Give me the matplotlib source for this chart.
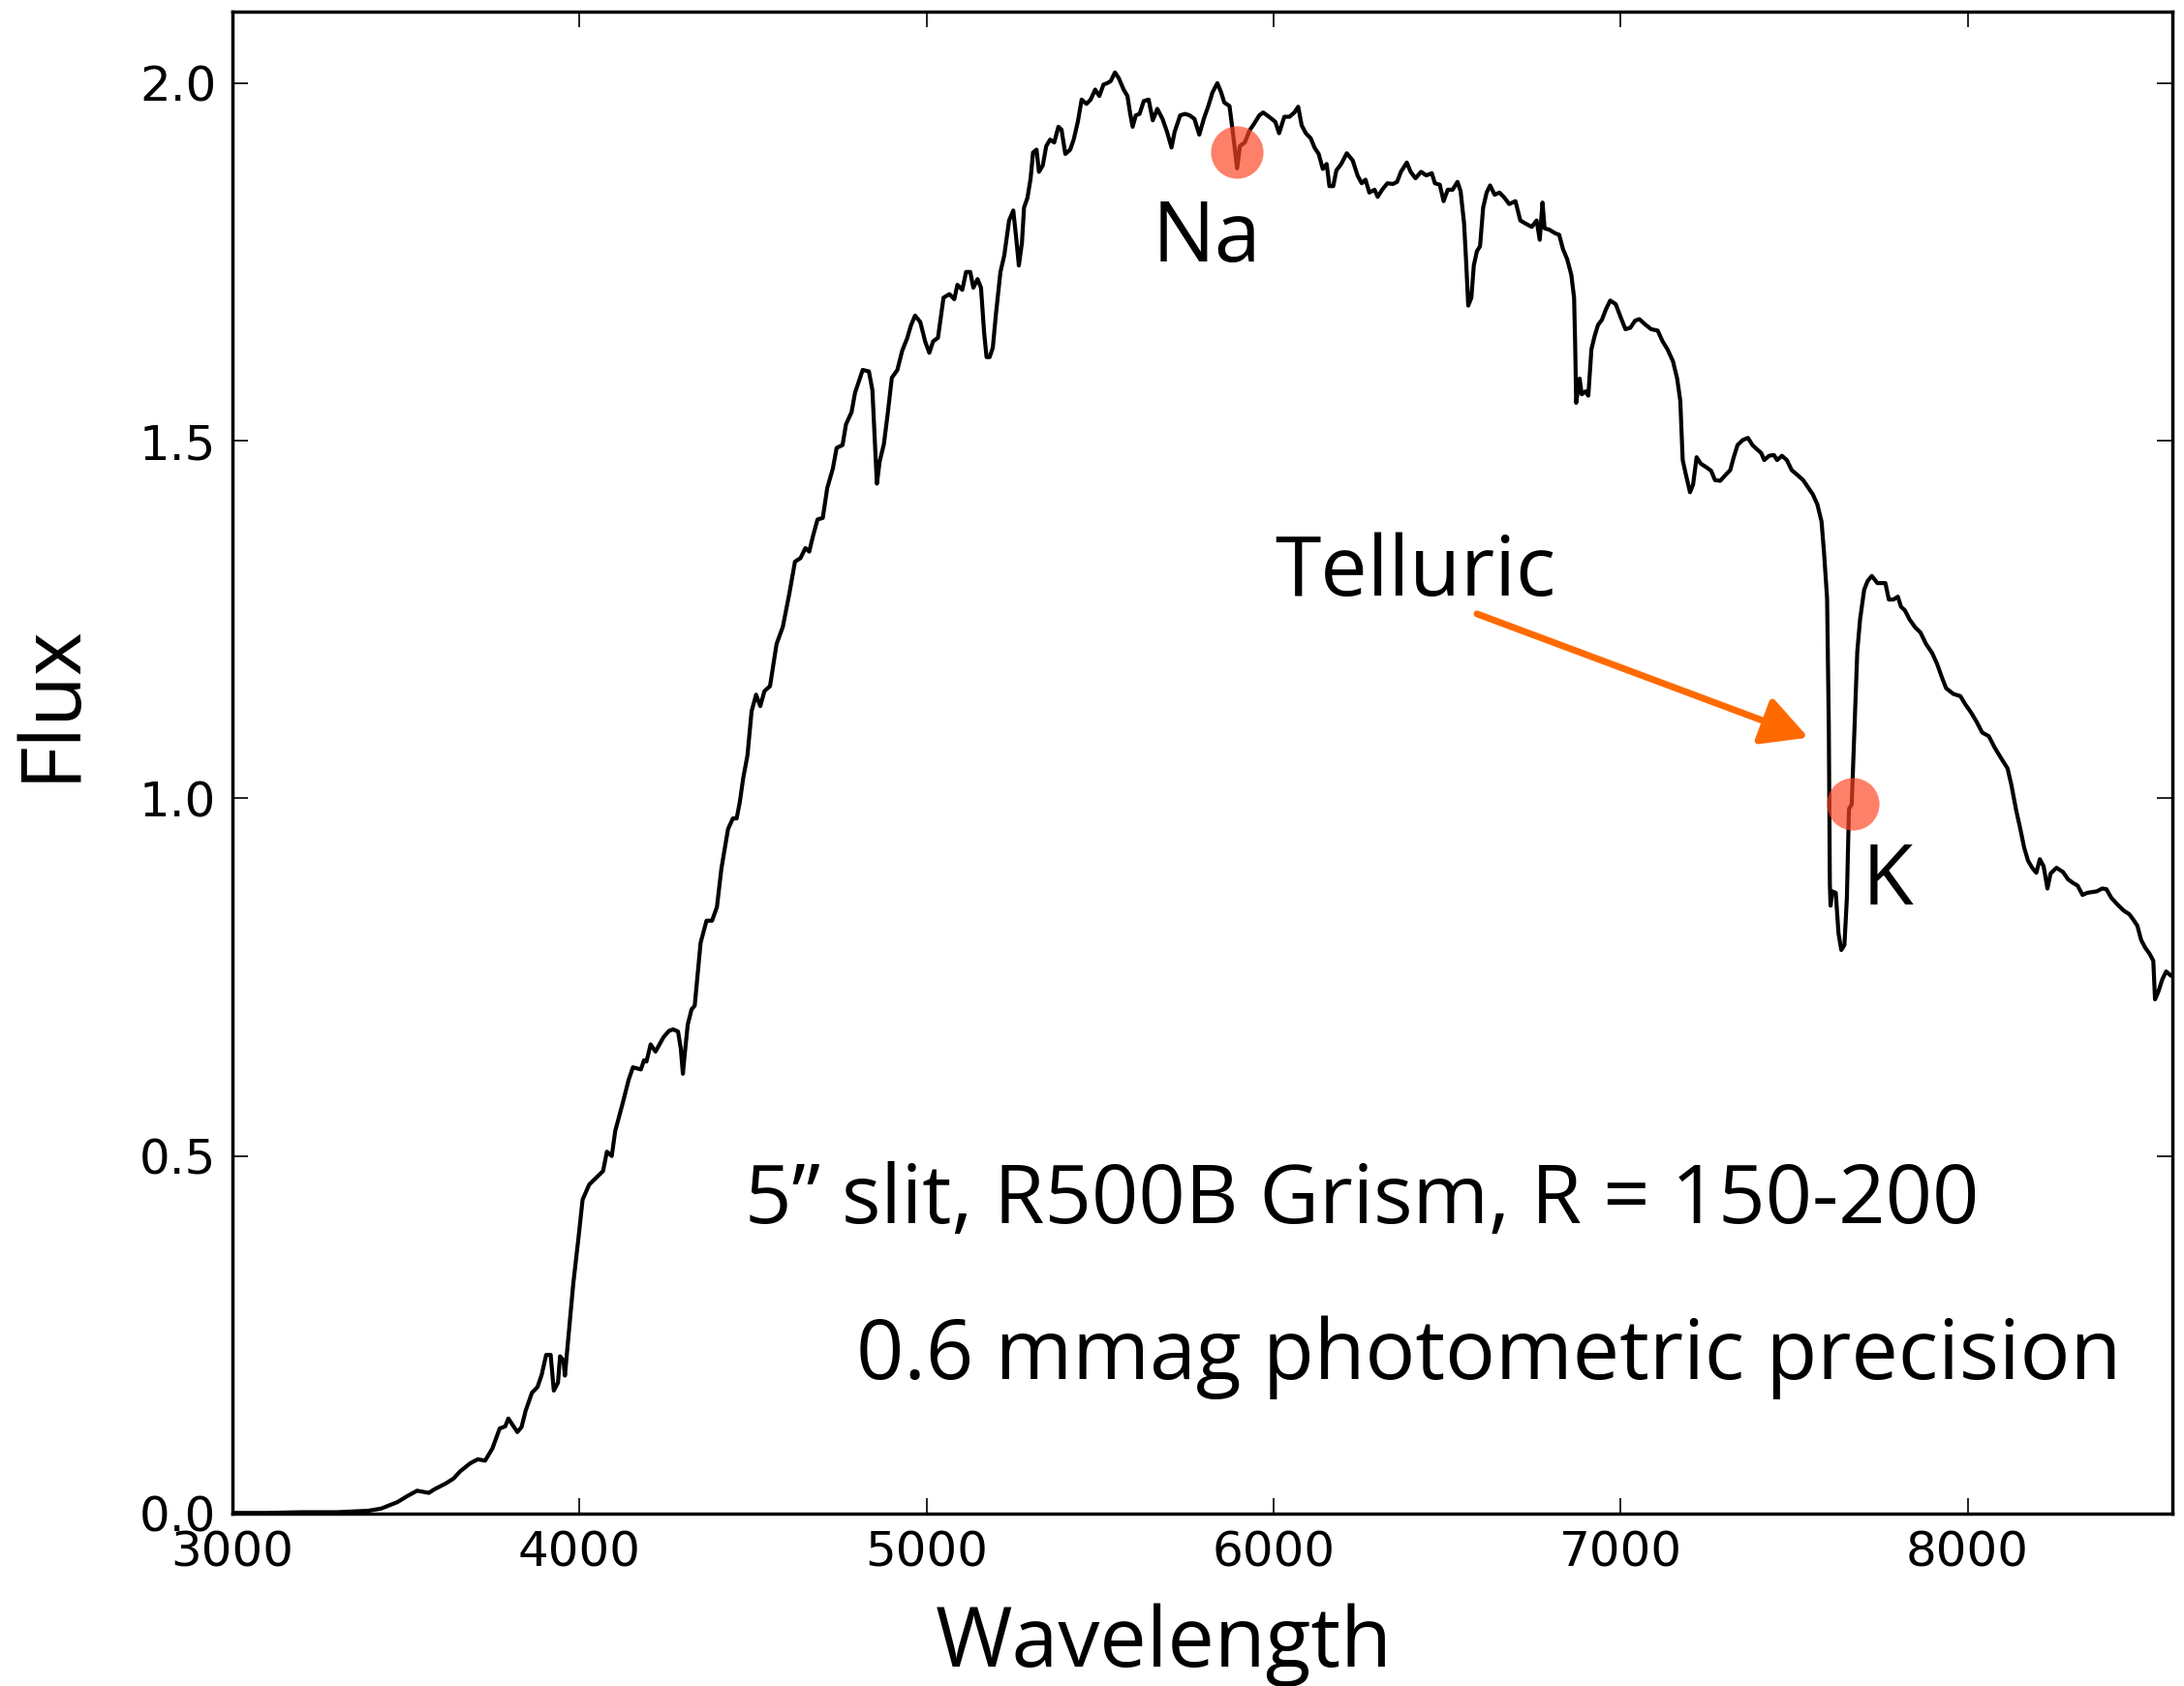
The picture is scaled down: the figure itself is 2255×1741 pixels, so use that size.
import matplotlib
matplotlib.use("Agg")
from matplotlib import pyplot as plt

# spectrum
wavelength = [
    3000, 3100, 3200, 3300, 3391, 3428, 3475, 3502, 3532, 3566, 3582, 3614, 3637, 3656, 3684,
    3707, 3728, 3749, 3770, 3786, 3795, 3821, 3833, 3845, 3863, 3879, 3891, 3904, 3917, 3926,
    3938, 3944, 3954, 3958, 3970, 3982, 3997, 4009, 4028, 4051, 4068, 4079, 4093, 4103, 4124,
    4142, 4154, 4177, 4186, 4193, 4205, 4219, 4242, 4258, 4270, 4284, 4292, 4298, 4303, 4312,
    4323, 4332, 4349, 4366, 4382, 4396, 4409, 4428, 4442, 4453, 4462, 4472, 4484, 4496, 4509,
    4521, 4533, 4549, 4568, 4586, 4605, 4621, 4637, 4651, 4662, 4673, 4686, 4701, 4714, 4730,
    4741, 4758, 4768, 4784, 4794, 4807, 4816, 4834, 4844, 4851, 4857, 4865, 4877, 4888, 4900,
    4916, 4930, 4944, 4955, 4967, 4982, 4996, 5008, 5019, 5033, 5049, 5066, 5080, 5089, 5103,
    5114, 5126, 5135, 5147, 5157, 5166, 5173, 5182, 5191, 5200, 5213, 5224, 5238, 5250, 5259,
    5266, 5275, 5281, 5291, 5300, 5307, 5317, 5324, 5335, 5345, 5356, 5368, 5380, 5389, 5400,
    5414, 5424, 5436, 5447, 5461, 5473, 5486, 5498, 5510, 5521, 5531, 5543, 5554, 5568, 5579,
    5587, 5594, 5603, 5614, 5626, 5640, 5652, 5665, 5680, 5693, 5706, 5715, 5731, 5745, 5758,
    5772, 5786, 5799, 5812, 5824, 5838, 5849, 5858, 5873, 5882, 5895, 5903, 5917, 5931, 5945,
    5959, 5970, 5987, 6005, 6016, 6031, 6046, 6060, 6071, 6081, 6093, 6107, 6118, 6130, 6142,
    6153, 6161, 6172, 6181, 6195, 6211, 6228, 6242, 6254, 6265, 6276, 6291, 6300, 6313, 6328,
    6344, 6356, 6367, 6384, 6395, 6409, 6425, 6440, 6456, 6465, 6479, 6490, 6502, 6516, 6530,
    6539, 6549, 6555, 6561, 6570, 6577, 6586, 6595, 6604, 6614, 6624, 6637, 6651, 6665, 6679,
    6697, 6711, 6725, 6744, 6758, 6767, 6775, 6781, 6795, 6812, 6823, 6834, 6846, 6858, 6866,
    6869, 6872, 6882, 6888, 6899, 6907, 6916, 6925, 6935, 6946, 6958, 6970, 6986, 7000, 7014,
    7028, 7042, 7054, 7070, 7088, 7107, 7121, 7135, 7151, 7163, 7172, 7179, 7188, 7200, 7209,
    7219, 7231, 7247, 7261, 7272, 7287, 7302, 7316, 7326, 7337, 7352, 7367, 7380, 7393, 7405,
    7414, 7428, 7442, 7451, 7465, 7479, 7493, 7510, 7526, 7540, 7554, 7567, 7579, 7586, 7595,
    7600, 7603, 7605, 7610, 7620, 7628, 7636, 7645, 7652, 7658, 7666, 7674, 7682, 7690, 7702,
    7712, 7724, 7740, 7763, 7773, 7786, 7799, 7808, 7819, 7833, 7849, 7864, 7880, 7898, 7912,
    7926, 7938, 7959, 7979, 7994, 8010, 8026, 8042, 8061, 8078, 8098, 8115, 8126, 8140, 8152,
    8163, 8174, 8186, 8198, 8208, 8219, 8230, 8239, 8256, 8275, 8289, 8303, 8317, 8331, 8345,
    8359, 8372, 8388, 8400, 8414, 8433, 8450, 8466, 8478, 8489, 8500, 8512, 8524, 8535, 8540,
    8549, 8561, 8572, 8586, 8595,
]
flux = [
    0.001, 0.001, 0.002, 0.002, 0.004, 0.007, 0.016, 0.024, 0.032, 0.029, 0.034, 0.042, 0.049, 0.059, 0.070,
    0.076, 0.074, 0.091, 0.119, 0.122, 0.133, 0.114, 0.121, 0.144, 0.169, 0.177, 0.194, 0.222, 0.222, 0.172,
    0.183, 0.220, 0.214, 0.193, 0.257, 0.321, 0.385, 0.439, 0.460, 0.471, 0.479, 0.506, 0.500, 0.535, 0.573,
    0.607, 0.624, 0.621, 0.634, 0.632, 0.656, 0.646, 0.666, 0.675, 0.677, 0.674, 0.650, 0.615, 0.641, 0.684,
    0.705, 0.710, 0.798, 0.829, 0.829, 0.848, 0.902, 0.957, 0.972, 0.972, 0.995, 1.029, 1.060, 1.122, 1.145,
    1.129, 1.150, 1.157, 1.216, 1.240, 1.287, 1.331, 1.336, 1.350, 1.345, 1.367, 1.390, 1.392, 1.434, 1.461,
    1.490, 1.494, 1.523, 1.540, 1.567, 1.586, 1.599, 1.597, 1.571, 1.502, 1.440, 1.471, 1.495, 1.537, 1.588,
    1.599, 1.626, 1.643, 1.661, 1.675, 1.666, 1.639, 1.623, 1.639, 1.644, 1.700, 1.705, 1.698, 1.718, 1.711,
    1.736, 1.736, 1.714, 1.726, 1.714, 1.651, 1.617, 1.617, 1.630, 1.677, 1.736, 1.759, 1.808, 1.822, 1.781,
    1.745, 1.777, 1.826, 1.840, 1.867, 1.903, 1.907, 1.876, 1.885, 1.912, 1.921, 1.917, 1.939, 1.935, 1.901,
    1.907, 1.921, 1.946, 1.977, 1.971, 1.977, 1.991, 1.982, 1.998, 2.000, 2.003, 2.015, 2.007, 1.991, 1.982,
    1.957, 1.939, 1.955, 1.957, 1.975, 1.977, 1.948, 1.964, 1.950, 1.932, 1.910, 1.932, 1.955, 1.957, 1.955,
    1.950, 1.928, 1.950, 1.968, 1.987, 2.000, 1.987, 1.973, 1.968, 1.934, 1.881, 1.912, 1.917, 1.934, 1.944,
    1.955, 1.959, 1.953, 1.946, 1.930, 1.953, 1.953, 1.959, 1.967, 1.941, 1.930, 1.923, 1.910, 1.901, 1.880,
    1.887, 1.856, 1.856, 1.878, 1.887, 1.902, 1.892, 1.871, 1.860, 1.865, 1.847, 1.851, 1.841, 1.851, 1.860,
    1.859, 1.862, 1.876, 1.889, 1.876, 1.867, 1.876, 1.871, 1.874, 1.860, 1.858, 1.835, 1.851, 1.851, 1.862,
    1.849, 1.804, 1.750, 1.689, 1.700, 1.745, 1.765, 1.772, 1.826, 1.847, 1.857, 1.844, 1.847, 1.840, 1.831,
    1.835, 1.808, 1.804, 1.799, 1.808, 1.781, 1.833, 1.797, 1.795, 1.790, 1.788, 1.768, 1.754, 1.732, 1.700,
    1.637, 1.553, 1.587, 1.565, 1.569, 1.563, 1.628, 1.646, 1.662, 1.669, 1.684, 1.696, 1.691, 1.673, 1.656,
    1.658, 1.668, 1.670, 1.663, 1.656, 1.654, 1.639, 1.628, 1.611, 1.587, 1.556, 1.473, 1.453, 1.428, 1.439,
    1.477, 1.468, 1.463, 1.458, 1.445, 1.444, 1.452, 1.459, 1.477, 1.494, 1.501, 1.504, 1.494, 1.488, 1.483,
    1.473, 1.479, 1.480, 1.473, 1.479, 1.473, 1.459, 1.452, 1.445, 1.435, 1.425, 1.411, 1.387, 1.345, 1.280,
    1.100, 0.880, 0.850, 0.870, 0.868, 0.811, 0.788, 0.795, 0.860, 0.985, 0.992, 1.100, 1.205, 1.250, 1.292,
    1.304, 1.311, 1.301, 1.301, 1.278, 1.278, 1.282, 1.268, 1.263, 1.250, 1.239, 1.232, 1.216, 1.203, 1.188,
    1.169, 1.154, 1.146, 1.143, 1.131, 1.120, 1.107, 1.092, 1.087, 1.071, 1.055, 1.042, 1.019, 0.983, 0.957,
    0.931, 0.913, 0.903, 0.896, 0.915, 0.905, 0.874, 0.895, 0.903, 0.897, 0.887, 0.882, 0.878, 0.865, 0.868,
    0.869, 0.870, 0.874, 0.873, 0.861, 0.851, 0.843, 0.838, 0.830, 0.822, 0.802, 0.791, 0.783, 0.773, 0.719,
    0.729, 0.747, 0.758, 0.752, 0.756,
]

xticks = [3000, 4000, 5000, 6000, 7000, 8000]
yticks = [0.0, 0.5, 1.0, 1.5, 2.0]

# marked absorption lines
line_names = ["Na", "K"]
line_wave = [5894, 7669]
line_flux = [1.904, 0.993]

note_lines = ["5\u201d slit, R500B Grism, R = 150-200", "0.6 mmag photometric precision"]

font = "Open Sans"
big = 62

fig = plt.figure(figsize=(22.55, 17.41), dpi=100)
ax = fig.add_axes([240/2255, 1 - 1563/1741, 2003/2255, 1551/1741])

ax.plot(wavelength, flux, color="k", lw=3.0)
ax.plot(line_wave, line_flux, "o", ms=39, color="#ff4422", alpha=0.68, mec="none")

ax.set_xlim(3000, 8590)
ax.set_ylim(0, 2.1)
ax.set_xticks(xticks)
ax.set_xticklabels([str(t) for t in xticks])
ax.set_yticks(yticks)
ax.set_yticklabels(["%.1f" % t for t in yticks])
ax.tick_params(direction="in", length=11.5, width=1.2, top=True, right=True,
               labelsize=36, pad=12)
for s in ax.spines.values():
    s.set_linewidth(2.5)

ax.set_xlabel("Wavelength", fontsize=big, family=font, va="baseline")
ax.xaxis.set_label_coords(0.480, -0.102)
ax.set_ylabel("Flux", fontsize=big, family=font, va="center", ha="center")
ax.yaxis.set_label_coords(-0.0934, 0.540)

ax.text(5808, 1.751, line_names[0], fontsize=big, family=font, ha="center", va="baseline")
ax.text(7697, 0.851, line_names[1], fontsize=big, family=font, ha="left", va="baseline")
ax.text(6003, 1.284, "Telluric", fontsize=big, family=font, ha="left", va="baseline")

ax.annotate("", xy=(7541, 1.085), xytext=(6586, 1.258),
            arrowprops=dict(arrowstyle="-|>,head_length=0.85,head_width=0.45",
                            mutation_scale=34, lw=5, color="#ff6a00",
                            shrinkA=0, shrinkB=0))

ax.text(4476, 0.406, note_lines[0], fontsize=61, family=font, ha="left", va="baseline")
ax.text(4797, 0.188, note_lines[1], fontsize=big, family=font, ha="left", va="baseline")

fig.savefig("out.png", dpi=100)
